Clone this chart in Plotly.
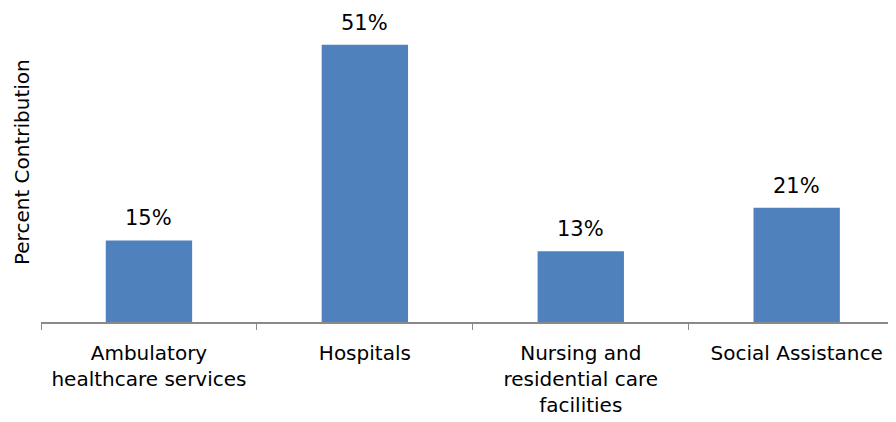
import plotly.graph_objects as go

categories = ["Ambulatory<br>healthcare services", "Hospitals",
              "Nursing and<br>residential care<br>facilities", "Social Assistance"]
values = [15, 51, 13, 21]
labels = ["15%", "51%", "13%", "21%"]
y_title = "Percent Contribution"

FONT = "DejaVu Sans"

fig = go.Figure(go.Bar(
    x=categories, y=values, width=0.4,
    marker=dict(color="#4F81BD", line=dict(width=0)),
))

for c, v, t in zip(categories, values, labels):
    fig.add_annotation(x=c, y=v, text=t, showarrow=False, yanchor="bottom",
                       yshift=8, font=dict(family=FONT, size=21, color="#000000"))

fig.add_annotation(xref="paper", yref="paper", x=0, y=0.535, xanchor="center",
                   yanchor="middle", xshift=-19, textangle=-90, showarrow=False,
                   text=y_title, font=dict(family=FONT, size=20, color="#000000"))

fig.update_layout(
    width=888, height=414,
    margin=dict(l=33, r=0, t=15, b=100),
    paper_bgcolor="white", plot_bgcolor="white",
    showlegend=False,
    font=dict(family=FONT, size=20, color="#000000"),
)
fig.update_xaxes(
    type="category", range=[-0.5, 3.46], automargin=False,
    showline=True, linecolor="#898989", linewidth=1.5,
    ticks="outside", tickson="boundaries", ticklen=6, tickcolor="#898989",
    ticklabelstandoff=12,
    tickfont=dict(family=FONT, size=20, color="#000000"),
    showgrid=False,
)
fig.update_yaxes(
    range=[0, 55], showticklabels=False, showgrid=False, zeroline=False,
    showline=False, automargin=False,
)

fig.write_html("out.html")
